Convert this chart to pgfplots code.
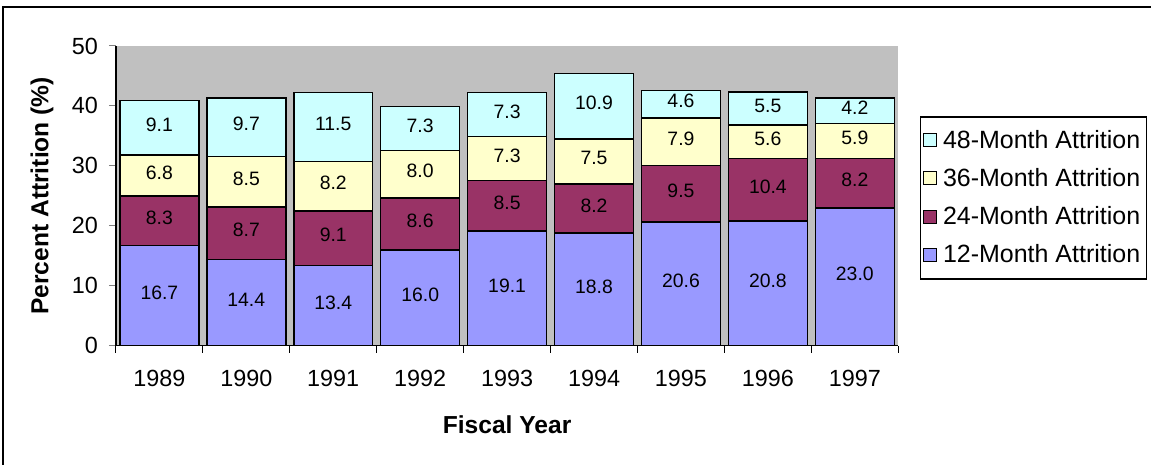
\documentclass[border=0pt]{standalone}
\usepackage{pgfplots}
\pgfplotsset{compat=1.18}
\usepackage{pgfplotstable}
\usepackage{fontspec}
\setmainfont{Liberation Sans}
\definecolor{cA}{HTML}{9999FF}
\definecolor{cB}{HTML}{993366}
\definecolor{cC}{HTML}{FFFFCC}
\definecolor{cD}{HTML}{CCFFFF}
\definecolor{bg}{HTML}{C0C0C0}
\pgfplotstableread{
x m12 m24 m36 m48
0 16.7 8.3 6.8 9.1
1 14.4 8.7 8.5 9.7
2 13.4 9.1 8.2 11.5
3 16.0 8.6 8.0 7.3
4 19.1 8.5 7.3 7.3
5 18.8 8.2 7.5 10.9
6 20.6 9.5 7.9 4.6
7 20.8 10.4 5.6 5.5
8 23.0 8.2 5.9 4.2
}\datatable
\begin{document}
\begin{tikzpicture}
\path (0,0) rectangle (576pt,232.5pt);
\draw[line width=0.9pt] (1.5pt,0pt) -- (1.5pt,229pt) -- (576pt,229pt);
\begin{axis}[
  at={(58pt,59.5pt)}, anchor=south west,
  scale only axis, width=391.5pt, height=150pt,
  ybar stacked, bar width=39.5pt,
  xmin=-0.5, xmax=8.5, ymin=0, ymax=50,
  axis background/.style={fill=bg},
  axis x line*=bottom, axis y line*=left,
  axis line style={line width=0.6pt},
  xtick={0,...,8},
  xticklabels={1989,1990,1991,1992,1993,1994,1995,1996,1997},
  minor xtick={-0.5,0.5,...,8.5},
  ytick={0,10,...,50},
  tick align=outside,
  major tick length=3.5pt, minor tick length=3.5pt,
  x tick style={draw=none},
  minor x tick style={draw=black, line width=0.5pt},
  y tick style={line width=0.5pt},
  tick label style={font=\fontsize{11.7}{13}\selectfont},
  xticklabel style={yshift=-5pt},
  yticklabel style={xshift=-2pt},
  /pgf/number format/assume math mode=true,
  xlabel={\textbf{Fiscal Year}},
  ylabel={\textbf{Percent Attrition (\%)}},
  label style={font=\fontsize{12.3}{14}\selectfont},
  xlabel style={at={(axis description cs:0.5,-0.263)}, anchor=center},
  ylabel style={at={(axis description cs:-0.0945,0.5)}, anchor=center},
  every axis plot/.append style={draw=black, line width=0.75pt},
  visualization depends on=rawy \as \rawy,
  nodes near coords={\pgfmathprintnumber[fixed,fixed zerofill,precision=1]{\rawy}},
  every node near coord/.append style={anchor=center, yshift=1.5pt, font=\fontsize{9.7}{11}\selectfont, text=black},
  reverse legend,
  legend style={at={(1.028,0.765)}, anchor=north west, draw=black, line width=0.6pt,
    font=\fontsize{12.5}{14}\selectfont, row sep=4.6pt, inner ysep=4.5pt, inner xsep=1pt},
  legend cell align=left,
  legend image code/.code={\draw[#1, line width=0.5pt] (2.5pt,-3pt) rectangle (9pt,3.5pt); \path (10pt,0pt);},
]
\addplot[fill=cA] table[x=x,y=m12]{\datatable};
\addplot[fill=cB] table[x=x,y=m24]{\datatable};
\addplot[fill=cC] table[x=x,y=m36]{\datatable};
\addplot[fill=cD] table[x=x,y=m48]{\datatable};
\legend{12-Month Attrition,24-Month Attrition,36-Month Attrition,48-Month Attrition}
\end{axis}
\end{tikzpicture}
\end{document}
